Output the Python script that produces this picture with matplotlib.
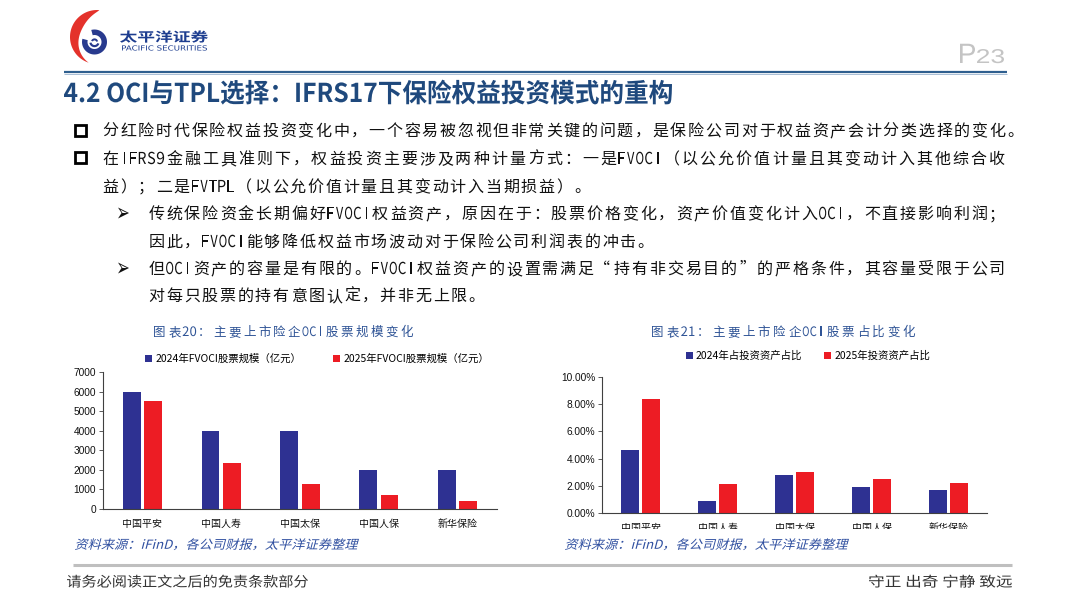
import matplotlib
matplotlib.use('Agg')
import matplotlib.pyplot as plt
import numpy as np
from matplotlib.textpath import TextPath
from matplotlib.font_manager import FontProperties
from matplotlib.patches import PathPatch, Rectangle, Polygon
from matplotlib.transforms import Affine2D, Bbox, TransformedBbox

CJK = 'Noto Sans CJK SC'
FAM = [CJK, 'DejaVu Sans']
plt.rcParams['font.family'] = FAM

# ---------------- data ----------------
companies = ['中国平安', '中国人寿', '中国太保', '中国人保', '新华保险']
scale_2024 = [6000, 4000, 4000, 2000, 2000]
scale_2025 = [5500, 2350, 1270, 720, 400]
share_2024 = [4.6, 0.9, 2.8, 1.9, 1.7]
share_2025 = [8.4, 2.1, 3.0, 2.5, 2.2]
scale_ticks = [0, 1000, 2000, 3000, 4000, 5000, 6000, 7000]
share_ticks = [0, 2, 4, 6, 8, 10]
scale_legend = ['2024年FVOCI股票规模（亿元）', '2025年FVOCI股票规模（亿元）']
share_legend = ['2024年占投资资产占比', '2025年投资资产占比']
title_left = '图表20：主要上市险企OCI股票规模变化'
title_right = '图表21：主要上市险企OCI股票占比变化'
source_text = '资料来源：iFinD，各公司财报，太平洋证券整理'
page_title = '4.2 OCI与TPL选择：IFRS17下保险权益投资模式的重构'
bullet1 = '分红险时代保险权益投资变化中，一个容易被忽视但非常关键的问题，是保险公司对于权益资产会计分类选择的变化。'
bullet2_l1 = '在IFRS9金融工具准则下，权益投资主要涉及两种计量方式：一是FVOCI（以公允价值计量且其变动计入其他综合收'
bullet2_l2 = '益）；二是FVTPL（以公允价值计量且其变动计入当期损益）。'
sub1_l1 = '传统保险资金长期偏好FVOCI权益资产，原因在于：股票价格变化，资产价值变化计入OCI，不直接影响利润；'
sub1_l2 = '因此，FVOCI能够降低权益市场波动对于保险公司利润表的冲击。'
sub2_l1 = '但OCI资产的容量是有限的。FVOCI权益资产的设置需满足“持有非交易目的”的严格条件，其容量受限于公司'
sub2_l2 = '对每只股票的持有意图认定，并非无上限。'
footer_left = '请务必阅读正文之后的免责条款部分'
footer_right = '守正 出奇 宁静 致远'
logo_cn = '太平洋证券'
logo_en = 'PACIFIC SECURITIES'

BLUE = '#2E3192'
RED = '#ED1C24'
TITLE_BLUE = '#1F497D'
CHART_TITLE = '#2F5496'
SRC_BLUE = '#2F4FA0'

fig = plt.figure(figsize=(10.8, 6.08), dpi=100)
bg = fig.add_axes([0, 0, 1, 1])
bg.set_xlim(0, 1080)
bg.set_ylim(608, 0)
bg.axis('off')
PT = 72.0 / 100.0  # px -> pt


def add_path(tp, tr, color):
    bg.add_patch(PathPatch(tr.transform_path(tp), fc=color, ec='none', lw=0))


def draw_fit(s, x0, x1, yb, em, color, weight='normal', family=FAM, skew=0.0):
    fp = FontProperties(family=family, weight=weight, size=em)
    tp = TextPath((0, 0), s, prop=fp)
    ext = tp.get_extents()
    sx = (x1 - x0) / ext.width
    tr = Affine2D().translate(-ext.x0, 0).skew_deg(skew, 0).scale(sx, -1).translate(x0, yb)
    add_path(tp, tr, color)


def draw_box(s, x0, x1, y0, y1, color, weight='normal', family=FAM):
    """Draw text stretched to fill the pixel box [x0,x1] x [y0,y1] (y down)."""
    fp = FontProperties(family=family, weight=weight, size=20)
    tp = TextPath((0, 0), s, prop=fp)
    ext = tp.get_extents()
    sx = (x1 - x0) / ext.width
    sy = (y1 - y0) / ext.height
    tr = Affine2D().translate(-ext.x0, -ext.y0).scale(sx, -sy).translate(x0, y1)
    add_path(tp, tr, color)


def draw_mono(s, x0, yc, em, color, pitch=None, x1=None, hang=False, latin_em=None, weight='normal'):
    units = [0.5 if ord(c) < 0x2000 else 1.0 for c in s]
    if pitch is None:
        total = sum(units) - (units[-1] if hang else 0)
        pitch = (x1 - x0) / total
    x = x0
    yb = round(yc + 0.38 * em)
    for c, u in zip(s, units):
        cw = u * pitch
        if c == ' ':
            x += cw
            continue
        if u == 1.0:
            if c == '“':
                tx, ha = x + cw - 2, 'right'
            elif c == '”':
                tx, ha = x + 2, 'left'
            else:
                tx, ha = x + (cw - em) / 2, 'left'
            bg.text(tx, yb, c, fontsize=em * PT, color=color, ha=ha, va='baseline',
                    fontweight=weight, family=FAM)
        else:
            fp = FontProperties(family=FAM, size=latin_em or em, weight=weight)
            tp = TextPath((0, 0), c, prop=fp)
            ext = tp.get_extents()
            iw = max(ext.width, 1e-3)
            sx = min(1.0, 0.8 * cw / iw)
            tr = Affine2D().translate(-(ext.x0 + ext.width / 2), 0).scale(sx, -1).translate(x + cw / 2, yb)
            add_path(tp, tr, color)
        x += cw


def vpt(cx, cy, r, t):
    return (cx + r * np.cos(np.radians(t)), cy - r * np.sin(np.radians(t)))


# ---------------- logo ----------------
ts = np.linspace(85, 252, 80)
u = (ts - 85) / 167.0
w = 10 * np.sin(np.pi * u ** 0.8)
outer = [vpt(97, 37, 27, t) for t in ts]
inner = [vpt(97, 37, 27 - wi, t) for t, wi in zip(ts[::-1], w[::-1])]
bg.add_patch(Polygon(outer + inner, closed=True, fc='#E4322B', ec='none'))
ts = np.linspace(165, 465, 80)
ring = [vpt(94.5, 42, 12.5, t) for t in ts] + [vpt(94.5, 42, 7, t) for t in ts[::-1]]
bg.add_patch(Polygon(ring, closed=True, fc='#283A8E', ec='none'))
ts = np.linspace(190, 340, 30)
sw = [vpt(94.5, 42, 5.2, t) for t in ts] + [vpt(94.5, 42, 3.0, t) for t in ts[::-1]]
bg.add_patch(Polygon(sw, closed=True, fc='#283A8E', ec='none'))
ts = np.linspace(10, 160, 30)
sw = [vpt(94.5, 42, 3.6, t) for t in ts] + [vpt(94.5, 42, 1.6, t) for t in ts[::-1]]
bg.add_patch(Polygon(sw, closed=True, fc='#283A8E', ec='none'))
draw_fit(logo_cn, 120, 208, 41.5, 13, '#1D3D8F', weight='bold')
draw_fit(logo_en, 122, 207, 50.5, 7, '#1D3D8F', family='DejaVu Sans')

# page number
draw_fit('P', 960, 975, 63, 28, '#C4C4C4', family='Liberation Sans')
draw_fit('23', 977, 1004, 63, 20, '#C4C4C4', family='Liberation Sans')

# header line
bg.plot([64, 1007], [71.5, 71.5], color='#2F5F8F', lw=1.6, solid_capstyle='butt')
bg.plot([64, 1007], [73.6, 73.6], color='#A9BFD6', lw=0.7, solid_capstyle='butt')

# page title
draw_fit(page_title, 64, 672, 102, 26, TITLE_BLUE, weight='bold')

# ---------------- body text ----------------
TXT = '#111111'
R = 1006
for yc in (130, 157.5):
    bg.add_patch(Rectangle((74.5, yc - 5.5), 11, 11, fill=False, ec='black', lw=2.0))
draw_mono(bullet1, 101.7, 130, 16, TXT, x1=R, hang=True, latin_em=16.5)
draw_mono(bullet2_l1, 101.7, 157.5, 16, TXT, x1=R, latin_em=16.5)
draw_mono(bullet2_l2, 101.7, 186, 16, TXT, pitch=17.8, latin_em=16.5)
for yc in (213, 268):
    draw_box('➢', 118, 129, yc - 5.5, yc + 5.5, TXT, family='DejaVu Sans', weight='bold')
draw_mono(sub1_l1, 147.3, 213, 16, TXT, x1=R, latin_em=16.5)
draw_mono(sub1_l2, 147.3, 240.5, 16, TXT, pitch=17.8, latin_em=16.5)
draw_mono(sub2_l1, 147.3, 268, 16, TXT, x1=R, latin_em=16.5)
draw_mono(sub2_l2, 147.3, 295, 16, TXT, pitch=17.8, latin_em=16.5)

# chart titles
draw_mono(title_left, 152, 331, 12.5, CHART_TITLE, x1=414, latin_em=13)
draw_mono(title_right, 650, 331, 12.5, CHART_TITLE, x1=916, latin_em=13)

# sources
draw_fit(source_text, 75, 357, 544 + 4.8, 12.5, SRC_BLUE, skew=14)
draw_fit(source_text, 565, 847, 544 + 4.8, 12.5, SRC_BLUE, skew=14)

# footer
bg.plot([73, 1012], [565, 565], color='#BFBFBF', lw=2.2, solid_capstyle='butt')
draw_fit(footer_left, 67, 308, 586.5, 14, '#333333')
draw_fit(footer_right, 869, 1012, 586.5, 14, '#333333')

# ---------------- charts ----------------
x = np.arange(len(companies))
bw = 0.225
off = 0.136


def style_axes(ax):
    ax.set_facecolor('none')
    for s in ('top', 'right'):
        ax.spines[s].set_visible(False)
    for s in ('left', 'bottom'):
        ax.spines[s].set_color('#404040')
        ax.spines[s].set_linewidth(0.8)
    ax.set_xlim(-0.5, len(companies) - 0.5)
    ax.set_xticks(x)
    ax.tick_params(axis='x', length=0, pad=7)
    ax.tick_params(axis='y', length=3, width=0.6, pad=2, labelsize=7.3, color='#404040', labelcolor='#111111')


ax1 = fig.add_axes([103 / 1080, 99 / 608, 394 / 1080, 137 / 608])
b1 = ax1.bar(x - off, scale_2024, bw, color=BLUE)
b2 = ax1.bar(x + off, scale_2025, bw, color=RED)
style_axes(ax1)
ax1.set_ylim(0, 7000)
ax1.set_yticks(scale_ticks)
ax1.set_yticklabels([str(v) for v in scale_ticks], fontfamily='Liberation Sans')
ax1.set_xticklabels(companies, fontsize=7.2, color='#111111')
ax1.legend([b1, b2], scale_legend, loc='center', bbox_to_anchor=(317 / 1080, 1 - 359 / 608),
           bbox_transform=fig.transFigure, ncol=2, frameon=False, fontsize=7.5,
           handlelength=0.7, handleheight=0.7, handletextpad=0.3, columnspacing=3.0,
           borderpad=0, borderaxespad=0)

ax2 = fig.add_axes([602 / 1080, 95 / 608, 385 / 1080, 136 / 608])
c1 = ax2.bar(x - off, share_2024, bw, color=BLUE)
c2 = ax2.bar(x + off, share_2025, bw, color=RED)
style_axes(ax2)
ax2.set_ylim(0, 10)
ax2.set_yticks(share_ticks)
ax2.set_yticklabels(['{:.2f}%'.format(v) for v in share_ticks], fontfamily='Liberation Sans')
ax2.set_xticklabels(companies, fontsize=7.2, color='#111111')
clip = TransformedBbox(Bbox.from_extents(0, 79 / 608, 1, 1), fig.transFigure)
for lbl in ax2.get_xticklabels():
    lbl.set_clip_on(True)
    lbl.set_clip_box(clip)
ax2.legend([c1, c2], share_legend, loc='center', bbox_to_anchor=(808 / 1080, 1 - 356 / 608),
           bbox_transform=fig.transFigure, ncol=2, frameon=False, fontsize=7.5,
           handlelength=0.7, handleheight=0.7, handletextpad=0.3, columnspacing=2.1,
           borderpad=0, borderaxespad=0)

fig.savefig('out.png', dpi=100)
